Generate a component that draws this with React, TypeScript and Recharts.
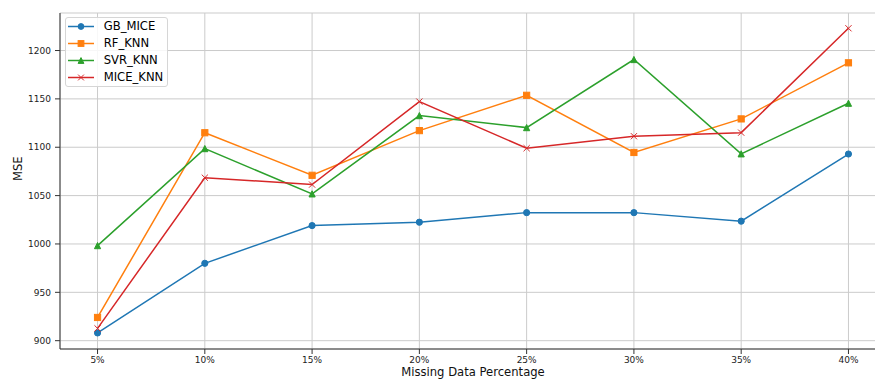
import React from "react";
import {
  LineChart,
  Line,
  XAxis,
  YAxis,
  CartesianGrid,
  Legend,
} from "recharts";

const percentages = [5, 10, 15, 20, 25, 30, 35, 40];
const gbMice = [908, 980, 1019, 1022.5, 1032.4, 1032.4, 1023.6, 1093];
const rfKnn = [924, 1115, 1071, 1117.2, 1153.7, 1094.6, 1129.3, 1187.3];
const svrKnn = [998.3, 1098.6, 1051.8, 1132.7, 1120.3, 1190.7, 1093.2, 1145.5];
const miceKnn = [912.7, 1068.5, 1061.4, 1147.2, 1099, 1111.4, 1115.1, 1223];
const yTicks = [900, 950, 1000, 1050, 1100, 1150, 1200];

const seriesInfo = [
  { key: "GB_MICE", values: gbMice, color: "#1f77b4", marker: "circle" },
  { key: "RF_KNN", values: rfKnn, color: "#ff7f0e", marker: "square" },
  { key: "SVR_KNN", values: svrKnn, color: "#2ca02c", marker: "triangle" },
  { key: "MICE_KNN", values: miceKnn, color: "#d62728", marker: "x" },
];

const data = percentages.map((p, i) => {
  const row: Record<string, number> = { pct: p };
  seriesInfo.forEach((s) => {
    row[s.key] = s.values[i];
  });
  return row;
});

const FONT = "DejaVu Sans, sans-serif";
const H = 3.1;

function markerShape(kind: string, color: string, cx: number, cy: number, key?: any, h: number = H) {
  if (kind === "circle") {
    return <circle key={key} cx={cx} cy={cy} r={h} fill={color} stroke={color} strokeWidth={1} />;
  }
  if (kind === "square") {
    return (
      <rect key={key} x={cx - h} y={cy - h} width={2 * h} height={2 * h} fill={color} stroke={color} strokeWidth={1} />
    );
  }
  if (kind === "triangle") {
    return (
      <path
        key={key}
        d={`M${cx},${cy - h} L${cx - h},${cy + h} L${cx + h},${cy + h} Z`}
        fill={color}
        stroke={color}
        strokeWidth={1}
      />
    );
  }
  return (
    <path
      key={key}
      d={`M${cx - h},${cy - h} L${cx + h},${cy + h} M${cx - h},${cy + h} L${cx + h},${cy - h}`}
      stroke={color}
      strokeWidth={1}
      fill="none"
    />
  );
}

const makeDot = (kind: string, color: string) => (props: any) => {
  const { cx, cy, key, index } = props;
  if (cx == null || cy == null) return <g key={key ?? index} />;
  return markerShape(kind, color, cx, cy, key ?? `${kind}-${index}`);
};

const LegendContent = () => (
  <div
    style={{
      width: 103,
      height: 70,
      boxSizing: "border-box",
      border: "1px solid #d6d6d6",
      borderRadius: 3,
      background: "rgba(255,255,255,0.85)",
      fontFamily: FONT,
      fontSize: 11.6,
      color: "#000",
      paddingTop: 0,
    }}
  >
    {seriesInfo.map((s) => (
      <div key={s.key} style={{ display: "flex", alignItems: "center", height: 17, marginLeft: 2.3 }}>
        <svg width={28} height={17} style={{ display: "block", flex: "none" }}>
          <line x1={0} y1={8.5} x2={26} y2={8.5} stroke={s.color} strokeWidth={1.5} />
          {markerShape(s.marker, s.color, 13, 8.5, undefined, 2.9)}
        </svg>
        <span style={{ marginLeft: 7.4, lineHeight: "17px", whiteSpace: "nowrap" }}>{s.key}</span>
      </div>
    ))}
  </div>
);

export default function App() {
  return (
    <div
      style={{
        position: "fixed",
        left: 0,
        top: 0,
        width: 875,
        height: 379,
        overflow: "hidden",
        background: "#fff",
      }}
    >
      <LineChart
        width={886}
        height={379}
        data={data}
        margin={{ top: 13, right: 0, left: 0, bottom: 0 }}
      >
        <CartesianGrid xAxisId="main" stroke="#cbcbcb" strokeWidth={1} ticks={yTicks} />
        <XAxis
          xAxisId="main"
          dataKey="pct"
          type="number"
          domain={[3.25, 41.75]}
          allowDataOverflow
          ticks={percentages}
          tickFormatter={(v: number) => `${v}%`}
          height={30}
          tickSize={5}
          tickMargin={3}
          stroke="#333"
          tick={{ fontSize: 9, fill: "#222", fontFamily: FONT }}
          axisLine={{ stroke: "#333", strokeWidth: 1 }}
          tickLine={{ stroke: "#333" }}
          label={{
            value: "Missing Data Percentage",
            position: "insideBottom",
            offset: 3,
            fontSize: 11.6,
            fill: "#111",
            fontFamily: FONT,
          }}
        />
        <XAxis
          xAxisId="top"
          orientation="top"
          dataKey="pct"
          type="number"
          domain={[3.25, 41.75]}
          allowDataOverflow
          height={0}
          tick={false}
          tickLine={false}
          axisLine={{ stroke: "#333", strokeWidth: 1 }}
        />
        <YAxis
          type="number"
          domain={[891.4, 1238.8]}
          allowDataOverflow
          ticks={yTicks}
          width={60}
          tickSize={5}
          tickMargin={4}
          tick={{ fontSize: 9, fill: "#222", fontFamily: FONT }}
          axisLine={{ stroke: "#333", strokeWidth: 1 }}
          tickLine={{ stroke: "#333" }}
          label={{
            value: "MSE",
            angle: -90,
            position: "insideLeft",
            offset: 18,
            fontSize: 11.6,
            fill: "#111",
            fontFamily: FONT,
          }}
        />
        <Legend
          layout="vertical"
          align="center"
          verticalAlign="middle"
          content={<LegendContent />}
          wrapperStyle={{ left: 65, top: 17, width: 103, height: 70 }}
        />
        {seriesInfo.map((s) => (
          <Line
            key={s.key}
            xAxisId="main"
            dataKey={s.key}
            name={s.key}
            stroke={s.color}
            strokeWidth={1.5}
            dot={makeDot(s.marker, s.color)}
            activeDot={false}
            isAnimationActive={false}
          />
        ))}
      </LineChart>
    </div>
  );
}
